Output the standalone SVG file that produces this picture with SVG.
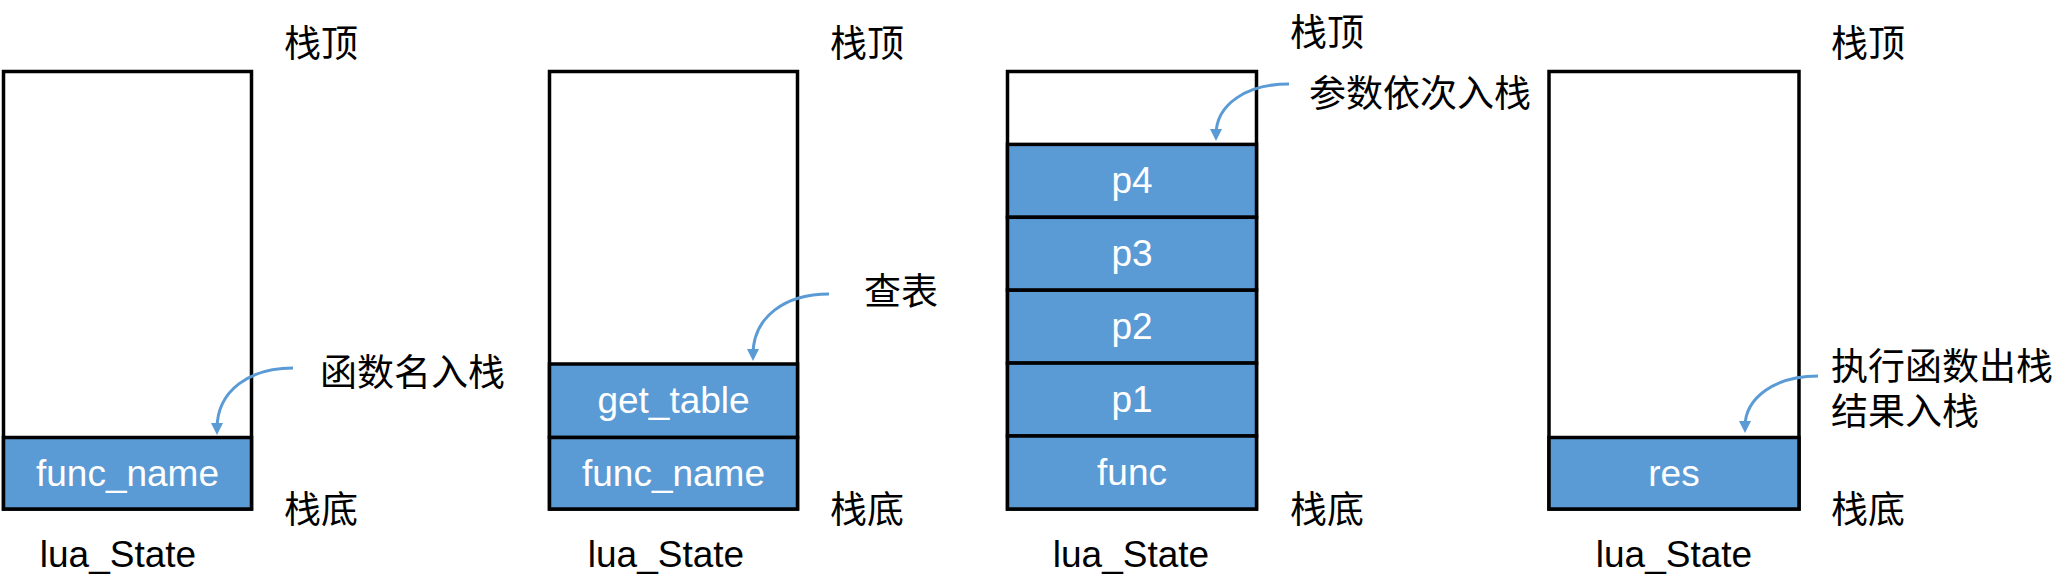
<svg xmlns="http://www.w3.org/2000/svg" width="2072" height="586" viewBox="0 0 2072 586">
<style>
.frame{fill:#FFFFFF;stroke:#000000;stroke-width:3.5}
.cell{fill:#5B9BD5;stroke:#000000;stroke-width:3.5}
.ct{font-family:"Liberation Sans",Arial,sans-serif;font-size:37px;fill:#FFFFFF;text-anchor:middle}
.lt{font-family:"Liberation Sans",Arial,sans-serif;font-size:37px;fill:#000000;text-anchor:middle}
.cj{font-family:"Noto Sans CJK SC","Noto Sans",sans-serif;font-size:37px;fill:#000000}
.arr{fill:none;stroke:#5B9BD5;stroke-width:3}
</style>
<defs>
<marker id="ah" markerUnits="userSpaceOnUse" markerWidth="14" markerHeight="14" refX="6" refY="6" orient="auto">
<path d="M0,0 L12,6 L0,12 z" fill="#5B9BD5"/>
</marker>
</defs>
<rect width="2072" height="586" fill="#FFFFFF"/>

<g id="stack1">
<rect class="frame" x="3.5" y="71.5" width="248" height="437.5"/>
<rect class="cell" x="3.5" y="437.5" width="248" height="71.5"/>
<text class="ct" x="127.5" y="486">func_name</text>
<text class="lt" x="118" y="567">lua_State</text>
<text class="cj" x="284" y="57">栈顶</text>
<text class="cj" x="284" y="523">栈底</text>
<text class="cj" x="320" y="386">函数名入栈</text>
</g>

<g id="stack2">
<rect class="frame" x="549.5" y="71.5" width="248" height="437.5"/>
<rect class="cell" x="549.5" y="364" width="248" height="73.5"/>
<rect class="cell" x="549.5" y="437.5" width="248" height="71.5"/>
<text class="ct" x="673.5" y="413">get_table</text>
<text class="ct" x="673.5" y="486">func_name</text>
<text class="lt" x="666" y="567">lua_State</text>
<text class="cj" x="830" y="57">栈顶</text>
<text class="cj" x="830" y="523">栈底</text>
<text class="cj" x="864" y="305">查表</text>
</g>

<g id="stack3">
<rect class="frame" x="1007.5" y="71.5" width="249" height="437.5"/>
<rect class="cell" x="1007.5" y="144.4" width="249" height="72.9"/>
<rect class="cell" x="1007.5" y="217.3" width="249" height="72.9"/>
<rect class="cell" x="1007.5" y="290.2" width="249" height="72.9"/>
<rect class="cell" x="1007.5" y="363.1" width="249" height="72.9"/>
<rect class="cell" x="1007.5" y="436" width="249" height="73"/>
<text class="ct" x="1132" y="193">p4</text>
<text class="ct" x="1132" y="266">p3</text>
<text class="ct" x="1132" y="339">p2</text>
<text class="ct" x="1132" y="412">p1</text>
<text class="ct" x="1132" y="485">func</text>
<text class="lt" x="1131" y="567">lua_State</text>
<text class="cj" x="1290" y="46">栈顶</text>
<text class="cj" x="1290" y="523">栈底</text>
<text class="cj" x="1309" y="107">参数依次入栈</text>
</g>

<g id="stack4">
<rect class="frame" x="1549" y="71.5" width="250" height="437.5"/>
<rect class="cell" x="1549" y="437.5" width="250" height="71.5"/>
<text class="ct" x="1674" y="486">res</text>
<text class="lt" x="1674" y="567">lua_State</text>
<text class="cj" x="1831" y="57">栈顶</text>
<text class="cj" x="1831" y="523">栈底</text>
<text class="cj"><tspan x="1831" y="380">执行函数出栈</tspan><tspan x="1831" y="425">结果入栈</tspan></text>
</g>

<g id="connectors">
<path class="arr" marker-end="url(#ah)" d="M293,368 C250,368 217,390 217,429"/>
<path class="arr" marker-end="url(#ah)" d="M829,294 C786,294 753,316 753,355"/>
<path class="arr" marker-end="url(#ah)" d="M1289,84 C1247,84 1216,104 1216,135"/>
<path class="arr" marker-end="url(#ah)" d="M1818,376 C1776,376 1745,397 1745,427"/>
</g>
</svg>
